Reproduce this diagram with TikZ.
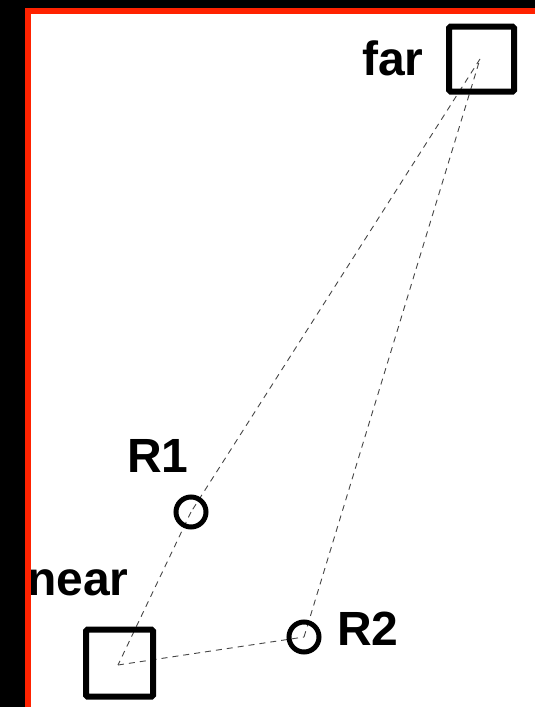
\documentclass[tikz,border=0pt]{standalone}
\usepackage{fontspec}
\setmainfont{Liberation Sans}
\definecolor{frame}{RGB}{255,34,0}
\definecolor{dash}{RGB}{70,70,70}
\begin{document}
\begin{tikzpicture}[x=1pt,y=-1pt,
  sq/.style={draw=black, line width=6pt, minimum size=65pt, inner sep=0pt, rounded corners=1.5pt, fill=white},
  ring/.style={draw=black, line width=5pt, circle, minimum size=30pt, inner sep=0pt, fill=white},
  lbl/.style={inner sep=0pt, font=\fontsize{48}{56}\selectfont\bfseries, text=black},
  link/.style={draw=dash, line width=0.9pt, dash pattern=on 6pt off 5pt}]
\useasboundingbox (0,0) rectangle (535,707);
\fill[black] (0,0) rectangle (535,707);
\fill[white] (28,11) rectangle (540,712);
% points
\coordinate (farc) at (480,59);
\coordinate (nearc) at (118,665);
\coordinate (r1c) at (191,512);
\coordinate (r2c) at (304,637);
% connectors
\draw[link] (farc) -- (r1c);
\draw[link] (r1c) -- (nearc);
\draw[link] (nearc) -- (r2c);
\draw[link] (r2c) -- (farc);
% shapes
\node[sq, fill=none] (far) at (481.5,59) {};
\node[sq, fill=none, minimum size=67pt] (near) at (119.5,663) {};
\node[ring, fill=none] (R1) at (r1c) {};
\node[ring, fill=none] (R2) at (r2c) {};
% labels
\node[lbl, anchor=base west] (farlbl) at (362,75) {far};
\node[lbl, anchor=base west] (nearlbl) at (27,595) {near};
\node[lbl, anchor=base west] (R1lbl) at (127,472) {R1};
\node[lbl, anchor=base west] (R2lbl) at (337,645) {R2};
% frame
\draw[frame, line width=6pt] (28,712) -- (28,11) -- (540,11);
\end{tikzpicture}
\end{document}
